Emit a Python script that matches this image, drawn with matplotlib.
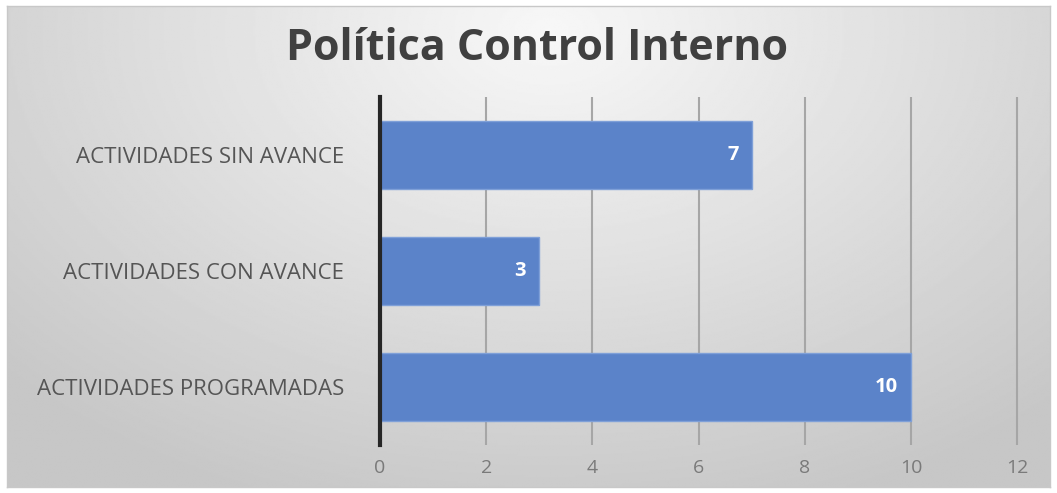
import numpy as np
import matplotlib.pyplot as plt

categorias = ['ACTIVIDADES PROGRAMADAS', 'ACTIVIDADES CON AVANCE', 'ACTIVIDADES SIN AVANCE']
valores = [10, 3, 7]
xticks = [0, 2, 4, 6, 8, 10, 12]
titulo = 'Política Control Interno'

plt.rcParams['font.family'] = ['Open Sans', 'DejaVu Sans']

fig = plt.figure(figsize=(10.57, 4.93), dpi=100)
fig.patch.set_facecolor('white')

# radial gray background of the chart area
bg = fig.add_axes([7 / 1057, 6 / 493, 1043 / 1057, 481 / 493])
yy, xx = np.mgrid[0:1:300j, 0:1:600j]
r = np.sqrt(((xx - 0.52) / 0.75) ** 2 + ((yy - 0.05) / 1.1) ** 2)
shade = np.clip(0.97 - 0.2 * r, 0.78, 0.97)
bg.imshow(shade, cmap='gray', vmin=0, vmax=1, aspect='auto', extent=[0, 1, 1, 0])
bg.set_xticks([])
bg.set_yticks([])
for s in bg.spines.values():
    s.set_color('#c8c8c8')
    s.set_linewidth(1)

ax = fig.add_axes([380 / 1057, 48 / 493, 640 / 1057, 348 / 493])
ax.patch.set_alpha(0)
pos = np.arange(len(categorias))
bars = ax.barh(pos, valores, height=0.59, color='#5b83c9', edgecolor='#7fa0d8', linewidth=1, zorder=3)
ax.set_xlim(0, 12.05)
ax.set_ylim(-0.5, 2.5)
ax.set_xticks(xticks)
ax.set_xticklabels([str(t) for t in xticks], fontsize=14, color='#7a7a7a')
ax.set_yticks(pos)
ax.set_yticklabels(categorias, fontsize=16, color='#555555')
ax.tick_params(axis='x', length=0, pad=10)
ax.tick_params(axis='y', length=0, pad=26)
ax.xaxis.grid(True, color='#a6a6a6', linewidth=1.5, zorder=0)
for s in ['top', 'right', 'bottom']:
    ax.spines[s].set_visible(False)
ax.spines['left'].set_color('#262626')
ax.spines['left'].set_linewidth(3)
ax.spines['left'].set_zorder(4)

for b, v in zip(bars, valores):
    ax.text(b.get_width() - 0.25, b.get_y() + b.get_height() / 2, str(v), ha='right', va='center',
            color='white', fontsize=14.5, fontweight='bold', zorder=5)

fig.text(0.508, 0.902, titulo, ha='center', va='center', fontsize=31, fontweight='bold', color='#404040')

fig.savefig('out.png', dpi=100)
